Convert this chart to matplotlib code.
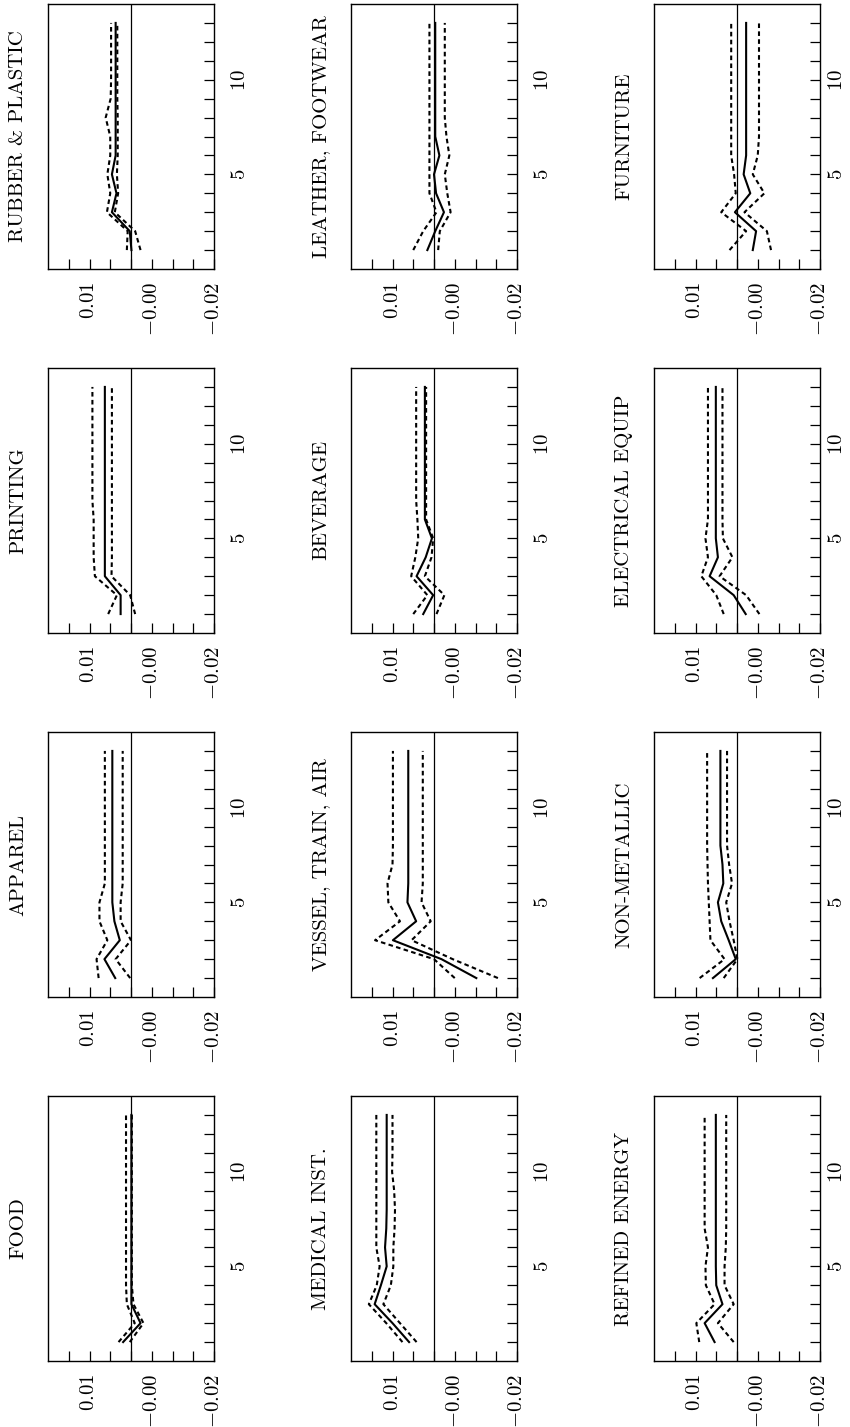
import numpy as np
import matplotlib
matplotlib.use("Agg")
import matplotlib.pyplot as plt

plt.rcParams['font.family'] = ['cmr10', 'DejaVu Serif']
plt.rcParams['mathtext.fontset'] = 'cm'
plt.rcParams['axes.unicode_minus'] = False

# forecast horizon (periods after the shock)
horizon = [1, 2, 3, 4, 5, 6, 7, 8, 9, 10, 11, 12, 13]

# response, upper band, lower band for each industry
food = [0.0019, -0.0023, -0.0001, -0.0001, -0.0001, -0.0001, -0.0001, -0.0001, -0.0001, -0.0001, -0.0001, -0.0001, -0.0001]
food_up = [0.0030, -0.0009, 0.0010, 0.0012, 0.0012, 0.0012, 0.0012, 0.0012, 0.0012, 0.0012, 0.0012, 0.0012, 0.0012]
food_dn = [0.0003, -0.0030, -0.0006, -0.0002, -0.0002, -0.0002, -0.0002, -0.0002, -0.0002, -0.0002, -0.0002, -0.0002, -0.0002]

apparel = [0.0038, 0.0064, 0.0027, 0.0040, 0.0045, 0.0045, 0.0045, 0.0045, 0.0045, 0.0045, 0.0045, 0.0045, 0.0045]
apparel_up = [0.0078, 0.0083, 0.0057, 0.0076, 0.0076, 0.0063, 0.0063, 0.0063, 0.0063, 0.0063, 0.0063, 0.0063, 0.0063]
apparel_dn = [0.0002, 0.0037, 0.0000, 0.0025, 0.0025, 0.0020, 0.0020, 0.0020, 0.0020, 0.0020, 0.0020, 0.0020, 0.0020]

printing = [0.0025, 0.0025, 0.0063, 0.0063, 0.0063, 0.0063, 0.0063, 0.0063, 0.0063, 0.0063, 0.0063, 0.0063, 0.0063]
printing_up = [0.0055, 0.0034, 0.0087, 0.0090, 0.0090, 0.0090, 0.0093, 0.0093, 0.0093, 0.0093, 0.0093, 0.0093, 0.0093]
printing_dn = [-0.0010, 0.0002, 0.0047, 0.0046, 0.0046, 0.0046, 0.0046, 0.0046, 0.0046, 0.0046, 0.0046, 0.0046, 0.0046]

rubber = [-0.0001, 0.0003, 0.0046, 0.0035, 0.0046, 0.0037, 0.0037, 0.0037, 0.0037, 0.0037, 0.0037, 0.0037, 0.0037]
rubber_up = [0.0010, 0.0008, 0.0058, 0.0050, 0.0057, 0.0050, 0.0050, 0.0061, 0.0049, 0.0048, 0.0048, 0.0048, 0.0048]
rubber_dn = [-0.0023, -0.0010, 0.0039, 0.0031, 0.0034, 0.0032, 0.0032, 0.0032, 0.0033, 0.0033, 0.0033, 0.0033, 0.0033]

medical = [0.0060, 0.0100, 0.0143, 0.0128, 0.0114, 0.0118, 0.0115, 0.0114, 0.0114, 0.0114, 0.0114, 0.0114, 0.0114]
medical_up = [0.0076, 0.0115, 0.0157, 0.0138, 0.0131, 0.0139, 0.0139, 0.0139, 0.0139, 0.0139, 0.0139, 0.0139, 0.0139]
medical_dn = [0.0042, 0.0082, 0.0122, 0.0104, 0.0098, 0.0098, 0.0095, 0.0094, 0.0096, 0.0101, 0.0100, 0.0100, 0.0100]

vessel = [-0.0102, -0.0018, 0.0099, 0.0043, 0.0064, 0.0062, 0.0062, 0.0062, 0.0062, 0.0062, 0.0062, 0.0062, 0.0062]
vessel_up = [-0.0050, 0.0000, 0.0142, 0.0082, 0.0110, 0.0112, 0.0100, 0.0099, 0.0099, 0.0099, 0.0099, 0.0099, 0.0099]
vessel_dn = [-0.0154, -0.0045, 0.0054, 0.0008, 0.0030, 0.0027, 0.0027, 0.0027, 0.0027, 0.0027, 0.0027, 0.0027, 0.0027]

beverage = [0.0026, 0.0002, 0.0042, 0.0020, 0.0005, 0.0022, 0.0022, 0.0022, 0.0022, 0.0022, 0.0022, 0.0022, 0.0022]
beverage_up = [0.0050, 0.0016, 0.0055, 0.0045, 0.0038, 0.0040, 0.0043, 0.0043, 0.0043, 0.0043, 0.0043, 0.0043, 0.0043]
beverage_dn = [-0.0006, -0.0025, 0.0022, 0.0006, 0.0002, 0.0019, 0.0019, 0.0019, 0.0019, 0.0019, 0.0019, 0.0019, 0.0019]

leather = [0.0016, -0.0003, -0.0024, -0.0005, 0.0000, -0.0013, -0.0003, -0.0003, -0.0003, -0.0003, -0.0003, -0.0003, -0.0003]
leather_up = [0.0050, 0.0026, -0.0006, 0.0011, 0.0011, 0.0011, 0.0011, 0.0011, 0.0011, 0.0011, 0.0011, 0.0011, 0.0011]
leather_dn = [-0.0010, -0.0014, -0.0040, -0.0032, -0.0026, -0.0037, -0.0030, -0.0026, -0.0026, -0.0026, -0.0026, -0.0026, -0.0026]

refined = [0.0054, 0.0078, 0.0035, 0.0050, 0.0051, 0.0051, 0.0051, 0.0051, 0.0051, 0.0051, 0.0051, 0.0051, 0.0051]
refined_up = [0.0091, 0.0098, 0.0054, 0.0075, 0.0076, 0.0070, 0.0078, 0.0078, 0.0078, 0.0078, 0.0078, 0.0078, 0.0078]
refined_dn = [0.0008, 0.0046, 0.0008, 0.0030, 0.0030, 0.0027, 0.0026, 0.0026, 0.0026, 0.0026, 0.0026, 0.0026, 0.0026]

nonmetal = [0.0058, 0.0003, 0.0020, 0.0038, 0.0046, 0.0033, 0.0035, 0.0040, 0.0040, 0.0040, 0.0040, 0.0040, 0.0040]
nonmetal_up = [0.0090, 0.0030, 0.0064, 0.0066, 0.0068, 0.0070, 0.0071, 0.0072, 0.0072, 0.0072, 0.0072, 0.0072, 0.0072]
nonmetal_dn = [0.0032, -0.0001, 0.0008, 0.0018, 0.0026, 0.0012, 0.0019, 0.0024, 0.0024, 0.0024, 0.0024, 0.0024, 0.0024]

electrical = [-0.0021, 0.0008, 0.0066, 0.0046, 0.0051, 0.0051, 0.0051, 0.0051, 0.0051, 0.0051, 0.0051, 0.0051, 0.0051]
electrical_up = [0.0032, 0.0050, 0.0086, 0.0070, 0.0076, 0.0070, 0.0070, 0.0070, 0.0070, 0.0070, 0.0070, 0.0070, 0.0070]
electrical_dn = [-0.0054, -0.0022, 0.0042, 0.0011, 0.0034, 0.0035, 0.0035, 0.0035, 0.0035, 0.0035, 0.0035, 0.0035, 0.0035]

furniture = [-0.0038, -0.0046, 0.0005, -0.0032, -0.0016, -0.0022, -0.0022, -0.0022, -0.0022, -0.0022, -0.0022, -0.0022, -0.0022]
furniture_up = [0.0018, -0.0022, 0.0038, 0.0003, 0.0007, 0.0014, 0.0014, 0.0014, 0.0014, 0.0014, 0.0014, 0.0014, 0.0014]
furniture_dn = [-0.0082, -0.0072, -0.0018, -0.0066, -0.0038, -0.0050, -0.0053, -0.0053, -0.0053, -0.0053, -0.0053, -0.0053, -0.0053]

# original 3x4 grid, row by row
titles = [
    ['FOOD', 'APPAREL', 'PRINTING', 'RUBBER & PLASTIC'],
    ['MEDICAL INST.', 'VESSEL, TRAIN, AIR', 'BEVERAGE', 'LEATHER, FOOTWEAR'],
    ['REFINED ENERGY', 'NON-METALLIC', 'ELECTRICAL EQUIP', 'FURNITURE'],
]
series = [
    [(food, food_up, food_dn), (apparel, apparel_up, apparel_dn),
     (printing, printing_up, printing_dn), (rubber, rubber_up, rubber_dn)],
    [(medical, medical_up, medical_dn), (vessel, vessel_up, vessel_dn),
     (beverage, beverage_up, beverage_dn), (leather, leather_up, leather_dn)],
    [(refined, refined_up, refined_dn), (nonmetal, nonmetal_up, nonmetal_dn),
     (electrical, electrical_up, electrical_dn), (furniture, furniture_up, furniture_dn)],
]

value_ticks = [0.01, -0.005, -0.02]
value_labels = ['$0.01$', '$-0.00$', '$-0.02$']
value_minor = [0.015, 0.005, 0.0, -0.01, -0.015]
h_ticks = [5, 10]
h_labels = ['$5$', '$10$']
h_minor = [1, 2, 3, 4, 6, 7, 8, 9, 11, 12, 13]

W, H = 850, 1427
fig = plt.figure(figsize=(W / 100, H / 100), dpi=100)

# page is turned a quarter: original rows run left to right, columns bottom to top
col_x = [48, 351, 654]
h_pad = [12, 12, 6]
row_top = [1096, 732, 368, 4]
pw, ph = 166, 265

for r in range(3):
    for c in range(4):
        x0 = col_x[r]
        y0 = row_top[c]
        ax = fig.add_axes([x0 / W, 1 - (y0 + ph) / H, pw / W, ph / H])
        irf, up, dn = series[r][c]
        ax.axvline(0, color='black', lw=0.9)
        ax.plot(irf, horizon, color='black', lw=1.5)
        ax.plot(up, horizon, color='black', lw=1.5, ls=(0, (2.2, 1.6)))
        ax.plot(dn, horizon, color='black', lw=1.5, ls=(0, (2.2, 1.6)))
        ax.set_xlim(0.02, -0.02)
        ax.set_ylim(0, 14)

        ax.set_xticks(value_ticks)
        ax.set_xticklabels(value_labels, fontsize=15)
        ax.set_xticks(value_minor, minor=True)
        ax.tick_params(axis='x', which='both', direction='in', length=7,
                       width=0.9, top=False, bottom=True, labelrotation=90, pad=9)

        ax.yaxis.tick_right()
        ax.set_yticks(h_ticks)
        ax.set_yticklabels(h_labels, fontsize=15)
        ax.set_yticks(h_minor, minor=True)
        ax.tick_params(axis='y', which='both', direction='in', length=7,
                       width=0.9, left=False, right=True, labelrotation=90,
                       pad=h_pad[r])
        for lab in ax.get_yticklabels():
            lab.set_verticalalignment('center')

        for s in ax.spines.values():
            s.set_linewidth(1.0)

        ax.text(-30 / pw, 0.5, titles[r][c], transform=ax.transAxes,
                rotation=90, ha='center', va='center', fontsize=15)

fig.savefig('out.png', dpi=100)
